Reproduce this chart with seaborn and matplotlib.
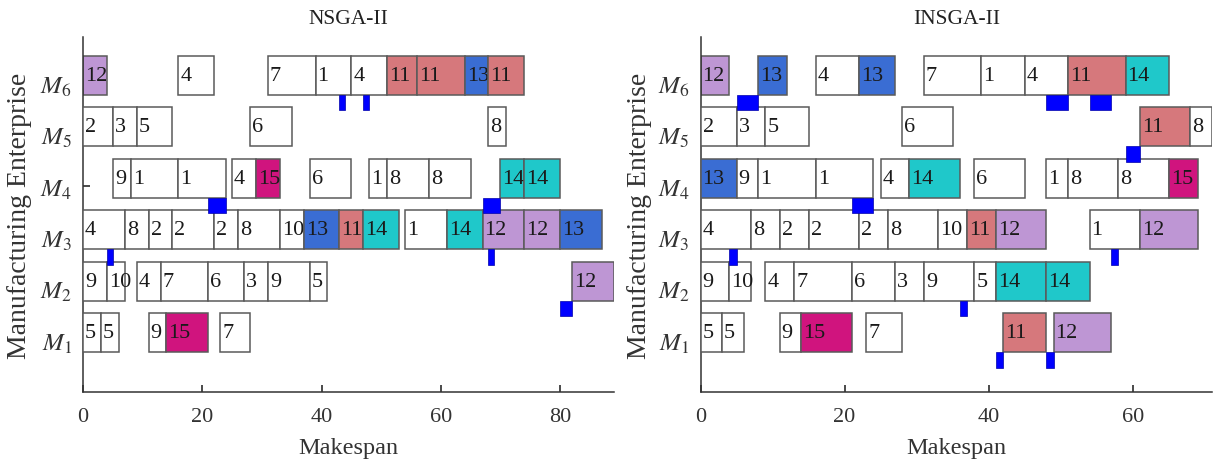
import matplotlib
matplotlib.use("Agg")
import matplotlib.pyplot as plt
import numpy as np
import pandas as pd
import seaborn as sns

# ---------------- data ----------------
machine_ids = [1, 2, 3, 4, 5, 6]
machine_labels = [r"$M_1$", r"$M_2$", r"$M_3$", r"$M_4$", r"$M_5$", r"$M_6$"]
x_ticks_left = [0, 20, 40, 60, 80]
x_ticks_right = [0, 20, 40, 60]
makespan_left = 89
makespan_right = 71

# NSGA-II schedule
nsga_machine = [6] * 9 + [5] * 5 + [4] * 11 + [3] * 15 + [2] * 9 + [1] * 5
nsga_job = [12, 4, 7, 1, 4, 11, 11, 13, 11,
            2, 3, 5, 6, 8,
            9, 1, 1, 4, 15, 6, 1, 8, 8, 14, 14,
            4, 8, 2, 2, 2, 8, 10, 13, 11, 14, 1, 14, 12, 12, 13,
            9, 10, 4, 7, 6, 3, 9, 5, 12,
            5, 5, 9, 15, 7]
nsga_start = [0, 16, 31, 39, 45, 51, 56, 64, 68,
              0, 5, 9, 28, 68,
              5, 8, 16, 25, 29, 38, 48, 51, 58, 70, 74,
              0, 7, 11, 15, 22, 26, 33, 37, 43, 47, 54, 61, 67, 74, 80,
              0, 4, 9, 13, 21, 27, 31, 38, 82,
              0, 3, 11, 14, 23]
nsga_end = [4, 22, 39, 45, 51, 56, 64, 68, 74,
            5, 9, 15, 35, 71,
            8, 16, 24, 29, 33, 45, 51, 58, 65, 74, 80,
            7, 11, 15, 22, 26, 33, 37, 43, 47, 53, 61, 67, 74, 80, 87,
            4, 7, 13, 21, 27, 31, 38, 41, 89,
            3, 6, 14, 21, 28]
nsga_tr_machine = [6, 6, 4, 4, 3, 3, 2]
nsga_tr_start = [43, 47, 21, 67, 4, 68, 80]
nsga_tr_end = [44, 48, 24, 70, 5, 69, 82]

# INSGA-II schedule
insga_machine = [6] * 9 + [5] * 6 + [4] * 11 + [3] * 11 + [2] * 10 + [1] * 7
insga_job = [12, 13, 4, 13, 7, 1, 4, 11, 14,
             2, 3, 5, 6, 11, 8,
             13, 9, 1, 1, 4, 14, 6, 1, 8, 8, 15,
             4, 8, 2, 2, 2, 8, 10, 11, 12, 1, 12,
             9, 10, 4, 7, 6, 3, 9, 5, 14, 14,
             5, 5, 9, 15, 7, 11, 12]
insga_start = [0, 8, 16, 22, 31, 39, 45, 51, 59,
               0, 5, 9, 28, 61, 68,
               0, 5, 8, 16, 25, 29, 38, 48, 51, 58, 65,
               0, 7, 11, 15, 22, 26, 33, 37, 41, 54, 61,
               0, 4, 9, 13, 21, 27, 31, 38, 41, 48,
               0, 3, 11, 14, 23, 42, 49]
insga_end = [4, 12, 22, 27, 39, 45, 51, 59, 65,
             5, 9, 15, 35, 68, 71,
             5, 8, 16, 24, 29, 36, 45, 51, 58, 65, 69,
             7, 11, 15, 22, 26, 33, 37, 41, 48, 61, 69,
             4, 7, 13, 21, 27, 31, 38, 41, 48, 54,
             3, 6, 14, 21, 28, 48, 57]
insga_tr_machine = [6, 6, 6, 5, 4, 3, 3, 2, 1, 1]
insga_tr_start = [5, 48, 54, 59, 21, 4, 57, 36, 41, 48]
insga_tr_end = [8, 51, 57, 61, 24, 5, 58, 37, 42, 49]

job_colors = {11: "#D6787C", 12: "#BE96D4", 13: "#3A6DD3",
              14: "#1FC8CA", 15: "#D0147E"}
transport_color = "#0000FF"

# ---------------- style ----------------
sns.set_theme(style="ticks")
plt.rcParams["font.family"] = ["Liberation Serif", "DejaVu Serif"]
plt.rcParams["mathtext.fontset"] = "stix"
plt.rcParams["axes.edgecolor"] = "#333333"
plt.rcParams["xtick.color"] = "#333333"
plt.rcParams["ytick.color"] = "#333333"

BOX_FS = 16
TICK_FS = 16
LABEL_FS = 17.5
YLABEL_FS = 20
TITLE_FS = 15.5
BOX_OFF = 0.155
BOX_H = 0.76
TR_H = 0.3

fig = plt.figure(figsize=(12.13, 4.64), dpi=100)
W, H = 1213.0, 464.0
ax_l = fig.add_axes([83 / W, (464 - 393) / H, 530.7 / W, 355 / H])
ax_r = fig.add_axes([700.5 / W, (464 - 393) / H, 511.5 / W, 355 / H])


def draw(ax, machine, job, start, end, trm, trs, tre, xmax, xticks, title):
    df = pd.DataFrame({"machine": machine, "job": job,
                       "start": start, "end": end})
    z = 2
    for _, r in df.iterrows():
        yc = r["machine"] + BOX_OFF
        col = job_colors.get(int(r["job"]), "white")
        ax.barh(yc, r["end"] - r["start"], left=r["start"], height=BOX_H,
                color=col, edgecolor="#5a5a5a", linewidth=1.1, zorder=z)
        ax.annotate(str(int(r["job"])), xy=(r["start"], yc),
                    xytext=(2, 0), textcoords="offset pixels",
                    ha="left", va="center", fontsize=BOX_FS, color="#1a1a1a",
                    zorder=z + 0.5, annotation_clip=False)
        z += 1
    tr = pd.DataFrame({"machine": trm, "start": trs, "end": tre})
    for _, r in tr.iterrows():
        bottom = r["machine"] + BOX_OFF - BOX_H / 2 - TR_H
        ax.bar(r["start"], TR_H, width=r["end"] - r["start"], bottom=bottom,
               align="edge", color=transport_color, edgecolor="#0000AA",
               linewidth=0.5, zorder=z + 10)
    ax.set_xlim(0, xmax)
    ax.set_ylim(0, 6.9)
    ax.set_xticks(xticks)
    ax.set_yticks(machine_ids)
    ax.set_yticklabels(machine_labels, fontsize=TICK_FS + 2)
    ax.tick_params(axis="x", direction="in", length=5, pad=11, labelsize=TICK_FS)
    ax.tick_params(axis="y", direction="in", length=5, pad=8)
    sns.despine(ax=ax)
    for sp in ("left", "bottom"):
        ax.spines[sp].set_linewidth(1.1)
    ax.set_xlabel("Makespan", fontsize=LABEL_FS, labelpad=8, color="#333333")
    ax.set_ylabel("Manufacturing Enterprise", fontsize=YLABEL_FS, color="#333333")
    ax.yaxis.set_label_coords(-0.096, 0.5)
    ax.set_title(title, fontsize=TITLE_FS, pad=10, color="#222222")
    ax.grid(False)


draw(ax_l, nsga_machine, nsga_job, nsga_start, nsga_end,
     nsga_tr_machine, nsga_tr_start, nsga_tr_end,
     makespan_left, x_ticks_left, "NSGA-II")
draw(ax_r, insga_machine, insga_job, insga_start, insga_end,
     insga_tr_machine, insga_tr_start, insga_tr_end,
     makespan_right, x_ticks_right, "INSGA-II")
ax_r.yaxis.set_label_coords(-0.095, 0.5)

fig.savefig("out.png", dpi=100)
